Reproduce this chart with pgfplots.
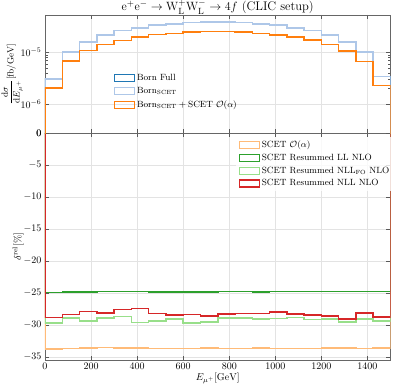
\documentclass[border=0pt]{standalone}
\usepackage{amsmath}
\usepackage{pgfplots}
\pgfplotsset{compat=1.18}

\definecolor{tabblue}{HTML}{1F77B4}
\definecolor{tablblue}{HTML}{AEC7E8}
\definecolor{taborange}{HTML}{FF7F0E}
\definecolor{tablorange}{HTML}{FFBB78}
\definecolor{tabgreen}{HTML}{2CA02C}
\definecolor{tablgreen}{HTML}{98DF8A}
\definecolor{tabred}{HTML}{D62728}

\pgfplotsset{
  histstyle/.style={const plot mark left, no marks, line width=1.5pt},
  boxlegend/.style={legend image code/.code={
      \draw[##1,line width=1.2pt] (0pt,-3.5pt) rectangle (20pt,3.5pt);}},
  common/.style={
    width=345.5pt, scale only axis,
    xmin=0, xmax=1500,
    xtick={0,200,...,1400},
    /pgf/number format/1000 sep={},
    grid=major,
    grid style={gray!22, line width=0.4pt},
    axis line style={gray!80!black},
    tick style={gray!70!black},
    tick label style={font=\normalsize},
    legend cell align=left,
  },
}

\begin{document}
\begin{tikzpicture}
\useasboundingbox (-45pt,-25pt) rectangle (350pt,360pt);

% lower panel: relative corrections
\begin{axis}[common,
  at={(0,0)}, anchor=south west,
  height=227pt,
  ymin=-35.5, ymax=0,
  ytick={-35,-30,...,0},
  xlabel={$E_{\mu^+}[\mathrm{GeV}]$},
  ylabel={$\delta^{\mathrm{rel}}[\%]$},
  xlabel style={yshift=4pt},
  ylabel style={at={(axis description cs:-0.078,0.5)}, anchor=center},
  legend style={at={(1.0,0.985)}, anchor=north east, xshift=4pt, draw=none,
    fill=white, fill opacity=0.8, text opacity=1, font=\small, row sep=1pt},
  boxlegend,
]
\addplot[histstyle, tablorange] coordinates {
(0,0) (0,-33.80) (75,-33.70) (150,-33.60) (225,-33.55) (300,-33.65) (375,-33.65)
(450,-33.70) (525,-33.72) (600,-33.70) (675,-33.62) (750,-33.70) (825,-33.68)
(900,-33.65) (975,-33.70) (1050,-33.68) (1125,-33.70) (1200,-33.65) (1275,-33.62)
(1350,-33.68) (1425,-33.65) (1500,-33.65) (1500,0)};
\addlegendentry{SCET $\mathcal{O}(\alpha)$}
\addplot[histstyle, tabgreen] coordinates {
(0,0) (0,-24.95) (75,-24.90) (150,-24.85) (225,-24.75) (300,-24.80) (375,-24.80)
(450,-24.85) (525,-24.85) (600,-24.85) (675,-24.90) (750,-24.80) (825,-24.80)
(900,-24.85) (975,-24.80) (1050,-24.80) (1125,-24.80) (1200,-24.80) (1275,-24.75)
(1350,-24.80) (1425,-24.80) (1500,-24.80) (1500,0)};
\addlegendentry{SCET Resummed LL NLO}
\addplot[histstyle, tablgreen] coordinates {
(0,0) (0,-29.74) (75,-28.90) (150,-29.43) (225,-28.90) (300,-28.70) (375,-29.64)
(450,-29.38) (525,-29.06) (600,-29.69) (675,-29.58) (750,-28.96) (825,-28.96)
(900,-29.11) (975,-29.00) (1050,-28.85) (1125,-29.17) (1200,-29.11) (1275,-29.53)
(1350,-29.06) (1425,-29.43) (1500,-29.43) (1500,0)};
\addlegendentry{SCET Resummed NLL$_{\mathrm{FO}}$ NLO}
\addplot[histstyle, tabred] coordinates {
(0,0) (0,-28.85) (75,-28.39) (150,-27.92) (225,-28.18) (300,-27.60) (375,-27.45)
(450,-28.23) (525,-28.49) (600,-28.39) (675,-28.65) (750,-28.33) (825,-28.23)
(900,-28.23) (975,-28.02) (1050,-28.28) (1125,-28.44) (1200,-28.60) (1275,-29.11)
(1350,-28.13) (1425,-28.75) (1500,-28.75) (1500,0)};
\addlegendentry{SCET Resummed NLL NLO}
\end{axis}

% upper panel: differential cross section
\begin{axis}[common,
  at={(0,227pt)}, anchor=south west,
  height=118pt,
  ymode=log,
  ymin=2.8e-7, ymax=5.2e-5,
  ytick={1e-6,1e-5},
  extra y ticks={2.8e-7},
  extra y tick labels={$0$},
  extra y tick style={grid=none},
  xticklabels={},
  title={\fontsize{12.5}{14}\selectfont $\mathrm{e}^{+}\mathrm{e}^{-}\to\mathrm{W}^{+}_{\mathrm{L}}\mathrm{W}^{-}_{\mathrm{L}}\to 4f$ (CLIC setup)},
  title style={at={(axis description cs:0.5,1)}, anchor=base, yshift=-1.5pt},
  ylabel={\small $\dfrac{\mathrm{d}\sigma}{\mathrm{d}E_{\mu^+}}[\mathrm{fb}/\mathrm{GeV}]$},
  ylabel style={at={(axis description cs:-0.095,0.5)}, anchor=center},
  legend style={at={(0.19,0.17)}, anchor=south west, draw=none, fill=none,
    font=\small, row sep=1.5pt},
  boxlegend,
]
\addplot[histstyle, tabblue] coordinates {
(0,1e-7) (0,3.09e-6) (75,1.000e-5) (150,1.585e-5) (225,2.138e-5) (300,2.600e-5)
(375,2.951e-5) (450,3.311e-5) (525,3.508e-5) (600,3.715e-5) (675,3.802e-5)
(750,3.802e-5) (825,3.715e-5) (900,3.508e-5) (975,3.311e-5) (1050,2.951e-5)
(1125,2.600e-5) (1200,2.138e-5) (1275,1.585e-5) (1350,1.000e-5) (1425,3.388e-6)
(1500,3.388e-6) (1500,1e-7)};
\addlegendentry{Born Full}
\addplot[histstyle, tablblue] coordinates {
(0,1e-7) (0,3.09e-6) (75,1.000e-5) (150,1.585e-5) (225,2.138e-5) (300,2.600e-5)
(375,2.951e-5) (450,3.311e-5) (525,3.508e-5) (600,3.715e-5) (675,3.802e-5)
(750,3.802e-5) (825,3.715e-5) (900,3.508e-5) (975,3.311e-5) (1050,2.951e-5)
(1125,2.600e-5) (1200,2.138e-5) (1275,1.585e-5) (1350,1.000e-5) (1425,3.388e-6)
(1500,3.388e-6) (1500,1e-7)};
\addlegendentry{$\mathrm{Born}_{\mathrm{SCET}}$}
\addplot[histstyle, taborange] coordinates {
(0,1e-7) (0,2.042e-6) (75,6.761e-6) (150,1.072e-5) (225,1.396e-5) (300,1.698e-5)
(375,1.950e-5) (450,2.188e-5) (525,2.317e-5) (600,2.427e-5) (675,2.512e-5)
(750,2.512e-5) (825,2.427e-5) (900,2.291e-5) (975,2.138e-5) (1050,1.950e-5)
(1125,1.718e-5) (1200,1.396e-5) (1275,1.047e-5) (1350,6.607e-6) (1425,2.291e-6)
(1500,2.291e-6) (1500,1e-7)};
\addlegendentry{$\mathrm{Born}_{\mathrm{SCET}}+\mathrm{SCET}\ \mathcal{O}(\alpha)$}
\end{axis}
\end{tikzpicture}
\end{document}
